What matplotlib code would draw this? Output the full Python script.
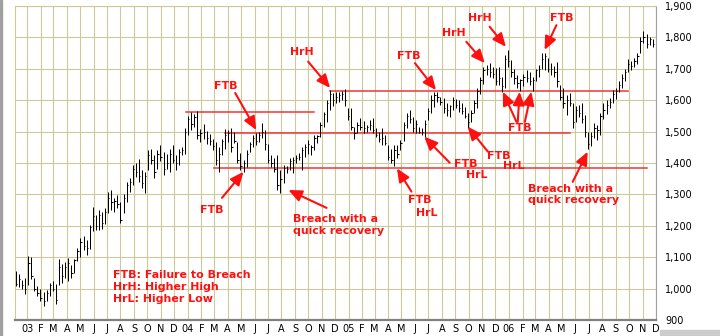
import pandas as pd
import matplotlib
matplotlib.use('Agg')
import matplotlib.pyplot as plt
import matplotlib.dates as mdates
from matplotlib.patches import Rectangle

# weekly bars (Dec 2002 - Nov 2006)
highs = [1056, 1045, 1028, 1035, 1103, 1100, 1035, 1008, 1000, 990,
         995, 1019, 1024, 1014, 1093, 1077, 1085, 1098, 1075, 1093,
         1130, 1161, 1166, 1156, 1203, 1261, 1235, 1251, 1245, 1256,
         1308, 1314, 1290, 1298, 1277, 1300, 1340, 1351, 1393, 1400,
         1414, 1377, 1372, 1440, 1445, 1424, 1440, 1456, 1435, 1429,
         1445, 1456, 1425, 1445, 1451, 1510, 1551, 1563, 1556, 1566,
         1508, 1524, 1503, 1493, 1477, 1466, 1451, 1477, 1508, 1505,
         1510, 1500, 1468, 1431, 1410, 1440, 1468, 1490, 1495, 1500,
         1526, 1505, 1460, 1425, 1415, 1425, 1378, 1394, 1390, 1415,
         1420, 1425, 1431, 1452, 1460, 1473, 1457, 1489, 1489, 1530,
         1563, 1600, 1632, 1622, 1627, 1625, 1630, 1635, 1574, 1574,
         1516, 1530, 1542, 1535, 1521, 1537, 1542, 1510, 1500, 1510,
         1489, 1457, 1445, 1457, 1457, 1473, 1531, 1558, 1569, 1547,
         1537, 1516, 1510, 1537, 1574, 1616, 1627, 1627, 1611, 1606,
         1590, 1585, 1611, 1605, 1600, 1590, 1579, 1558, 1570, 1600,
         1640, 1675, 1707, 1712, 1717, 1705, 1701, 1707, 1675, 1745,
         1760, 1728, 1700, 1680, 1669, 1685, 1696, 1690, 1675, 1700,
         1712, 1749, 1751, 1735, 1720, 1710, 1723, 1648, 1638, 1617,
         1622, 1590, 1580, 1585, 1590, 1553, 1500, 1500, 1526, 1520,
         1560, 1590, 1600, 1606, 1632, 1640, 1660, 1685, 1700, 1730,
         1725, 1735, 1750, 1800, 1820, 1810, 1802, 1795]
lows = [1008, 1005, 1000, 982, 1010, 1030, 993, 975, 960, 945,
        960, 977, 993, 950, 1010, 1019, 1035, 1024, 1035, 1050,
        1087, 1100, 1124, 1108, 1125, 1182, 1187, 1187, 1190, 1205,
        1240, 1250, 1245, 1256, 1210, 1240, 1277, 1308, 1329, 1356,
        1340, 1319, 1303, 1377, 1398, 1351, 1382, 1405, 1361, 1382,
        1372, 1400, 1377, 1395, 1424, 1429, 1490, 1505, 1514, 1477,
        1466, 1477, 1461, 1456, 1440, 1393, 1372, 1424, 1445, 1468,
        1436, 1465, 1399, 1378, 1372, 1388, 1436, 1450, 1457, 1468,
        1480, 1440, 1399, 1388, 1370, 1314, 1303, 1335, 1367, 1378,
        1367, 1400, 1410, 1378, 1420, 1430, 1425, 1440, 1465, 1484,
        1515, 1531, 1570, 1580, 1590, 1595, 1600, 1580, 1537, 1505,
        1478, 1494, 1505, 1494, 1500, 1505, 1494, 1484, 1468, 1457,
        1457, 1410, 1399, 1390, 1415, 1441, 1470, 1510, 1526, 1500,
        1494, 1494, 1489, 1484, 1537, 1558, 1579, 1595, 1584, 1560,
        1550, 1547, 1569, 1575, 1563, 1555, 1542, 1510, 1530, 1558,
        1574, 1620, 1653, 1680, 1675, 1670, 1648, 1650, 1627, 1640,
        1707, 1675, 1653, 1638, 1630, 1645, 1659, 1650, 1630, 1660,
        1675, 1700, 1696, 1690, 1680, 1675, 1643, 1600, 1574, 1553,
        1580, 1510, 1530, 1545, 1526, 1484, 1446, 1455, 1480, 1473,
        1490, 1540, 1555, 1574, 1590, 1605, 1627, 1638, 1660, 1690,
        1695, 1705, 1715, 1750, 1781, 1765, 1776, 1770]
closes = [1015, 1030, 1010, 1000, 1080, 1040, 1000, 985, 970, 960,
          985, 1010, 1000, 965, 1070, 1040, 1070, 1080, 1050, 1090,
          1120, 1150, 1135, 1130, 1195, 1230, 1200, 1235, 1210, 1245,
          1290, 1275, 1280, 1270, 1220, 1290, 1330, 1340, 1380, 1370,
          1360, 1335, 1360, 1425, 1410, 1370, 1430, 1420, 1380, 1400,
          1430, 1410, 1400, 1435, 1440, 1500, 1540, 1525, 1545, 1490,
          1495, 1500, 1480, 1470, 1455, 1410, 1430, 1470, 1490, 1495,
          1450, 1470, 1410, 1390, 1400, 1430, 1460, 1480, 1470, 1490,
          1500, 1460, 1410, 1400, 1380, 1330, 1350, 1385, 1380, 1405,
          1410, 1415, 1420, 1440, 1450, 1460, 1450, 1480, 1485, 1520,
          1555, 1590, 1620, 1600, 1610, 1615, 1620, 1600, 1550, 1515,
          1495, 1520, 1515, 1510, 1515, 1520, 1505, 1490, 1475, 1480,
          1465, 1420, 1410, 1440, 1430, 1465, 1520, 1550, 1540, 1510,
          1525, 1500, 1500, 1525, 1565, 1600, 1615, 1610, 1595, 1575,
          1570, 1580, 1600, 1585, 1575, 1565, 1550, 1530, 1560, 1590,
          1630, 1665, 1695, 1700, 1690, 1685, 1660, 1670, 1645, 1730,
          1725, 1690, 1670, 1655, 1665, 1675, 1670, 1660, 1665, 1695,
          1700, 1730, 1740, 1700, 1700, 1690, 1660, 1610, 1590, 1600,
          1590, 1530, 1570, 1560, 1540, 1500, 1460, 1485, 1510, 1505,
          1550, 1570, 1585, 1595, 1620, 1630, 1650, 1670, 1690, 1715,
          1710, 1725, 1740, 1790, 1800, 1780, 1795, 1780]

# horizontal support / resistance levels
levels = [1563, 1497, 1383, 1630]
level_start = ['2003-12-29', '2004-03-26', '2004-03-01', '2004-11-20']
level_end = ['2004-10-14', '2006-05-19', '2006-11-12', '2006-09-28']

# red notes
note_text = ['FTB', 'FTB', 'HrH', 'Breach with a\nquick recovery', 'FTB', 'HrH',
             'HrH', 'FTB', 'FTB', 'FTB', 'HrL', 'FTB', 'HrL', 'FTB', 'HrL',
             'Breach with a\nquick recovery']
note_date = ['2004-03-28', '2004-02-25', '2004-09-16', '2004-08-28', '2005-05-17',
             '2005-08-28', '2005-10-27', '2006-04-30', '2006-01-25', '2005-12-09',
             '2006-01-11', '2005-09-25', '2005-10-20', '2005-06-12', '2005-06-28',
             '2006-02-13']
note_price = [1645, 1250, 1754, 1203, 1741, 1814, 1863, 1863, 1513, 1422,
              1390, 1397, 1362, 1282, 1242, 1300]

arrow_from = [('2004-04-18', 1623), ('2004-03-19', 1289), ('2004-10-01', 1723),
              ('2004-11-12', 1257), ('2005-06-01', 1718), ('2005-09-26', 1786),
              ('2005-11-18', 1834), ('2006-04-19', 1839), ('2006-01-18', 1531),
              ('2006-01-21', 1531), ('2006-02-06', 1531), ('2005-11-14', 1436),
              ('2005-08-19', 1401), ('2005-05-24', 1309), ('2006-05-26', 1340)]
arrow_to = [('2004-06-05', 1505), ('2004-05-07', 1372), ('2004-11-20', 1639),
            ('2004-08-17', 1314), ('2005-07-19', 1632), ('2005-11-07', 1718),
            ('2005-12-25', 1770), ('2006-03-23', 1760), ('2005-12-18', 1627),
            ('2006-01-25', 1627), ('2006-02-21', 1627), ('2005-09-29', 1516),
            ('2005-06-22', 1484), ('2005-04-21', 1383), ('2006-06-29', 1436)]

legend_text = 'FTB: Failure to Breach\nHrH: Higher High\nHrL: Higher Low'

red = '#ff1010'
grid_col = '#cdc99b'

def d(s):
    return mdates.date2num(pd.Timestamp(s))

weeks = pd.date_range('2002-12-06', periods=len(closes), freq='7D')
x = mdates.date2num(weeks)

fig = plt.figure(figsize=(7.2, 3.36), dpi=100)
fig.patch.set_facecolor('white')
ax = fig.add_axes([15/720, 16/336, 641/720, 314/336])

ax.vlines(x, lows, highs, color='black', lw=0.72, zorder=3)
ax.hlines(closes, x, x + 3, color='black', lw=0.72, zorder=3)

for lv, s, e in zip(levels, level_start, level_end):
    ax.plot([d(s), d(e)], [lv, lv], color='#f03535', lw=1.1, zorder=2)

for t, dt, p in zip(note_text, note_date, note_price):
    ha = 'left' if t.startswith('Breach') else 'center'
    ax.text(d(dt), p, t, color=red, fontsize=7.9, fontweight='bold',
            ha=ha, va='center', zorder=5)

for (d0, p0), (d1, p1) in zip(arrow_from, arrow_to):
    ax.annotate('', xy=(d(d1), p1), xytext=(d(d0), p0),
                arrowprops=dict(arrowstyle='-|>,head_length=0.8,head_width=0.35',
                                color=red, lw=1.5, shrinkA=0, shrinkB=0,
                                mutation_scale=10), zorder=5)

ax.text(d('2003-07-15'), 1005, legend_text, color=red, fontsize=7.9,
        fontweight='bold', ha='left', va='center', linespacing=1.25)

# axes, grid, ticks
ax.set_xlim(d('2002-12-04'), d('2006-12-01') + 0.5)
ax.set_ylim(900, 1900)
months = pd.date_range('2003-01-01', '2006-12-01', freq='MS')
ax.set_xticks(mdates.date2num(months))
ax.set_xticklabels([m.strftime('%y') if m.month == 1 else m.strftime('%b')[0] for m in months])
ax.set_yticks(range(900, 2000, 100))
ax.set_yticklabels(['{:,}'.format(v) for v in range(900, 2000, 100)])
ax.yaxis.tick_right()
ax.tick_params(axis='both', length=0, labelsize=7, colors='black')
ax.tick_params(axis='y', pad=6.5)
ax.tick_params(axis='x', pad=3)
ax.grid(True, color=grid_col, lw=0.8)
ax.set_axisbelow(True)
ax.spines['top'].set_color(grid_col)
ax.spines['left'].set_color(grid_col)
ax.spines['bottom'].set_color('#808080')
ax.spines['bottom'].set_linewidth(1.6)
ax.spines['right'].set_color('#a0a0a0')

# window-frame bits seen at the edges of the screenshot
fig.patches.append(Rectangle((0, 0), 2/720, 1, transform=fig.transFigure, color='#a0a0a0'))
fig.patches.append(Rectangle((660/720, 0), 60/720, 6/336, transform=fig.transFigure, color='#cccccc'))

fig.savefig('out.png', dpi=100)
